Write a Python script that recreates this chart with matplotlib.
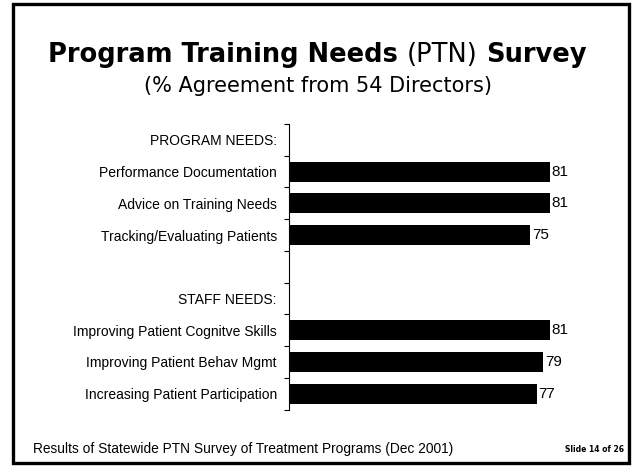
import numpy as np
import matplotlib
matplotlib.use("Agg")
import matplotlib.pyplot as plt
from matplotlib.patches import Rectangle

# chart data
categories = ["PROGRAM NEEDS:", "Performance Documentation", "Advice on Training Needs",
              "Tracking/Evaluating Patients", "", "STAFF NEEDS:",
              "Improving Patient Cognitve Skills", "Improving Patient Behav Mgmt",
              "Increasing Patient Participation"]
values = [None, 81, 81, 75, None, None, 81, 79, 77]

title_parts = [("Program Training Needs", "bold"), ("(PTN)", "normal"), ("Survey", "bold")]
subtitle = "(% Agreement from 54 Directors)"
footer = "Results of Statewide PTN Survey of Treatment Programs (Dec 2001)"
slide_no = "Slide 14 of 26"

W, H = 635, 466
fig = plt.figure(figsize=(W / 100, H / 100), dpi=100)

# slide border
fig.patches.append(Rectangle((12.5 / W, 3.5 / H), 616 / W, 459 / H, transform=fig.transFigure,
                             fill=False, edgecolor="black", linewidth=2.4))

ax = fig.add_axes([288.7 / W, (H - 409.5) / H, 322 / W, 285.5 / H])
ys = [i for i, v in enumerate(values) if v is not None]
vals = [v for v in values if v is not None]
ax.barh(ys, vals, height=0.63, color="black")
for y, v in zip(ys, vals):
    ax.text(v + 0.6, y, str(v), va="center", ha="left", fontsize=11, family="Liberation Sans")

ax.set_xlim(0, 100)
ax.set_ylim(len(categories) - 0.5, -0.5)
ax.set_xticks([])
ax.set_yticks(range(len(categories)))
ax.set_yticklabels(categories, fontsize=10, family="Liberation Sans")
ax.tick_params(axis="y", which="major", length=0, pad=8.6)
ax.set_yticks(np.arange(-0.5, len(categories), 1), minor=True)
ax.tick_params(axis="y", which="minor", length=3.6, width=0.8, direction="out")
for s in ["top", "right", "bottom"]:
    ax.spines[s].set_visible(False)
ax.spines["left"].set_linewidth(0.8)

# title made of bold and regular pieces
renderer = fig.canvas.get_renderer()
tsize = 18.5
probe = fig.text(0, 0, "x x", fontsize=tsize, family="DejaVu Sans", fontweight="bold")
probe2 = fig.text(0, 0, "xx", fontsize=tsize, family="DejaVu Sans", fontweight="bold")
space = probe.get_window_extent(renderer).width - probe2.get_window_extent(renderer).width
probe.remove()
probe2.remove()
pieces = [fig.text(0, (H - 61.7) / H, t, fontsize=tsize, fontweight=w, family="DejaVu Sans",
                   va="baseline", ha="left") for t, w in title_parts]
widths = [p.get_window_extent(renderer).width for p in pieces]
total = sum(widths) + space * (len(pieces) - 1)
x = (W - total) / 2
for p, w in zip(pieces, widths):
    p.set_x(x / W)
    x += w + space

fig.text(0.5, (H - 91.7) / H, subtitle, fontsize=15, family="DejaVu Sans", ha="center", va="baseline")
fig.text(33 / W, (H - 453.5) / H, footer, fontsize=9.9, family="Liberation Sans", ha="left", va="baseline")
fig.text(624 / W, (H - 452) / H, slide_no, fontsize=5.5, family="DejaVu Sans", fontweight="bold",
         ha="right", va="baseline")

fig.savefig("out.png", dpi=100)
